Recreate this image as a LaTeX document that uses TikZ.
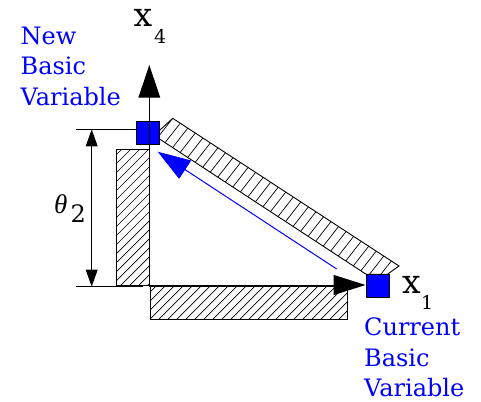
\documentclass[tikz,border=0pt]{standalone}
\usepackage{fontspec}
\setmainfont{DejaVu Serif}
\newfontfamily\thfont{Liberation Serif}
\usetikzlibrary{arrows.meta}
\definecolor{pblue}{RGB}{0,0,255}
\begin{document}
\begin{tikzpicture}[x=1pt,y=-1pt,
  sq/.style={draw=black,fill=pblue,line width=1pt,minimum size=23pt,inner sep=0pt},
  lbl/.style={text=pblue,font=\fontsize{24}{30.3}\selectfont,align=left,inner sep=0pt,anchor=north west},
  axl/.style={font=\fontsize{33}{36}\selectfont,inner sep=0pt,anchor=base west},
  subl/.style={font=\fontsize{19}{22}\selectfont,inner sep=0pt,anchor=base west},
  axline/.style={line width=1pt},
  hatchline/.style={line width=0.7pt},
  outl/.style={draw=black,line width=0.9pt},
  bigtip/.style={-{Triangle[length=32.7pt,width=21.7pt]}},
  dimtips/.style={{Triangle[length=17pt,width=11.7pt]}-{Triangle[length=17pt,width=11.7pt]}},
  ]
\useasboundingbox (0,0) rectangle (481,401);

% left hatched rectangle
\begin{scope}
  \clip (116,149.3) rectangle (149.3,285.7);
  \foreach \k in {0,...,20}{
    \pgfmathsetmacro\c{262+9*\k}
    \draw[hatchline] ({\c-290},290) -- ({\c-145},145);
  }
\end{scope}
\draw[outl] (116,149.3) rectangle (149.3,285.7);

% bottom hatched rectangle
\begin{scope}
  \clip (150,286.7) rectangle (347,319);
  \foreach \k in {0,...,27}{
    \pgfmathsetmacro\c{433+9*\k}
    \draw[hatchline] ({\c-322},322) -- ({\c-283},283);
  }
\end{scope}
\draw[outl] (150,286.7) rectangle (347,319);

% diagonal hatched band
\coordinate (bA) at (172.7,118.3);
\coordinate (bB) at (399,266);
\coordinate (bC) at (387.5,274.2);
\coordinate (bD) at (366,274.2);
\coordinate (bE) at (158,138);
\coordinate (bF) at (158,131.8);
\begin{scope}
  \clip (bA) -- (bB) -- (bC) -- (bD) -- (bE) -- (bF) -- cycle;
  \foreach \k in {-4,...,33}{
    \pgfmathsetmacro\px{172.7+9*0.8365*\k}
    \pgfmathsetmacro\py{118.3+9*0.548*\k}
    \draw[hatchline] ({\px+10*0.616},{\py-10*0.788}) -- ({\px-45*0.616},{\py+45*0.788});
  }
\end{scope}
\draw[outl] (bA) -- (bB) -- (bC) -- (bD) -- (bE) -- (bF) -- cycle;

% squares
\node[sq] (nb) at (147.7,132.7) {};
\node[sq] (cb) at (377.5,286.3) {};

% dimension theta_2
\coordinate (dT) at (91.7,129.3);
\coordinate (dB) at (91.7,286.7);
\coordinate (eT) at (76,129.3);
\coordinate (eB) at (76,286.7);
\coordinate (eB2) at (143,286.7);
\draw[axline] (eT) -- (nb.west |- eT);
\draw[axline] (eB) -- (eB2);
\draw[axline,dimtips] (dT) -- (dB);
\node[inner sep=0pt,anchor=base west,font=\thfont\itshape\fontsize{27}{30}\selectfont] (theta) at (54,213.3) {θ};
\node[inner sep=0pt,anchor=base west,font=\fontsize{24}{28}\selectfont] (thsub) at (70.5,222.7) {2};

% axes
\coordinate (org) at (149.3,285);
\coordinate (x4tip) at (149.3,65);
\coordinate (x1tip) at (365.5,285);
\draw[axline,bigtip] (149.3,286.5) -- (x4tip);
\draw[axline,-{Triangle[length=32pt,width=20pt]}] (org) -- (x1tip);

% blue arrow
\coordinate (bs) at (336.7,269);
\coordinate (be) at (157.7,151.7);
\draw[pblue,line width=1pt,-{Triangle[length=32.8pt,width=21.7pt]}] (bs) -- (be);

% axis labels
\node[axl] (x4) at (133.5,26.7) {x};
\node[subl] (x4s) at (154,43.3) {4};
\node[axl] (x1) at (401.8,293.3) {x};
\node[subl] (x1s) at (421,309.3) {1};

% blue labels
\node[lbl] (newlbl) at (20.5,26.8) {New\\Basic\\Variable};
\node[lbl] (curlbl) at (364,317.8) {Current\\Basic\\Variable};
\end{tikzpicture}
\end{document}
